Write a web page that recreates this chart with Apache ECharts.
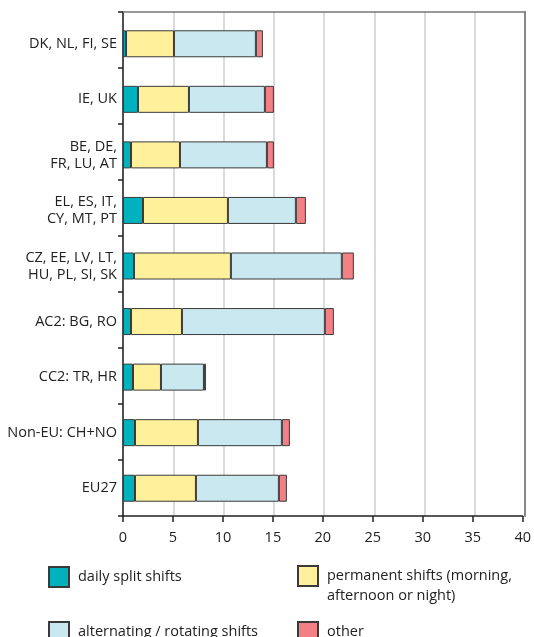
<!DOCTYPE html>
<html>
<head>
<meta charset="utf-8">
<script src="https://cdn.jsdelivr.net/npm/echarts@6/dist/echarts.min.js"></script>
<style>
html,body{margin:0;padding:0;background:#fff;}
#c{width:534px;height:637px;}
</style>
</head>
<body>
<div id="c"></div>
<script>
const categories = [
  'DK, NL, FI, SE',
  'IE, UK',
  'BE, DE,\nFR, LU, AT',
  'EL, ES, IT,\nCY, MT, PT',
  'CZ, EE, LV, LT,\nHU, PL, SI, SK',
  'AC2: BG, RO',
  'CC2: TR, HR',
  'Non-EU: CH+NO',
  'EU27'
];
const seriesNames = [
  'daily split shifts',
  'permanent shifts (morning, afternoon or night)',
  'alternating / rotating shifts',
  'other'
];
const dailySplit  = [0.3, 1.5, 0.8, 2.0, 1.1, 0.8, 1.0, 1.2, 1.2];
const permanent   = [4.8, 5.1, 4.9, 8.5, 9.7, 5.1, 2.8, 6.3, 6.1];
const alternating = [8.2, 7.6, 8.7, 6.8, 11.1, 14.3, 4.3, 8.4, 8.3];
const other       = [0.7, 0.9, 0.7, 1.0, 1.2, 0.9, 0.2, 0.8, 0.8];
const xTicks = [0, 5, 10, 15, 20, 25, 30, 35, 40];

const colors = ['#00B2BE', '#FFF09B', '#C9E8EF', '#F28084'];
const values = [dailySplit, permanent, alternating, other];
const FONT = 'Open Sans';
const FS = 14.5;

const chart = echarts.init(document.getElementById('c'), null, {renderer: 'canvas'});

const series = seriesNames.map((n, i) => ({
  name: n,
  type: 'bar',
  stack: 'total',
  xAxisIndex: 0,
  yAxisIndex: 0,
  barWidth: 27,
  data: values[i],
  itemStyle: {color: colors[i], borderColor: '#3a3a3a', borderWidth: 1},
  emphasis: {disabled: true},
  animation: false
}));

function legendOf(name, left, top, extra) {
  return Object.assign({
    data: [name],
    left: left, top: top,
    padding: 0,
    itemWidth: 20, itemHeight: 20,
    icon: 'rect',
    selectedMode: false,
    textStyle: {fontFamily: FONT, fontSize: FS, color: '#222', padding: [0, 0, 0, 4]}
  }, extra || {});
}

const option = {
  animation: false,
  backgroundColor: '#fff',
  grid: [
    {left: 123, right: 9, top: 16, bottom: 121, containLabel: false},
    {left: 123, right: 9, top: 12, bottom: 121, containLabel: false}
  ],
  legend: [
    legendOf(seriesNames[0], 48, 566),
    legendOf(seriesNames[1], 297, 546, {
      formatter: () => '\npermanent shifts (morning,\nafternoon or night)',
      textStyle: {fontFamily: FONT, fontSize: FS, color: '#222', lineHeight: 20, padding: [0, 0, 0, 4]}
    }),
    legendOf(seriesNames[2], 48, 621),
    legendOf(seriesNames[3], 297, 621)
  ],
  xAxis: [
    {
      gridIndex: 0, type: 'value', position: 'bottom',
      min: xTicks[0], max: xTicks[xTicks.length - 1], interval: 5,
      axisLine: {show: true, lineStyle: {color: '#222', width: 1.5}},
      axisTick: {show: true, length: 6, lineStyle: {color: '#222', width: 1.5}},
      axisLabel: {fontFamily: FONT, fontSize: FS, color: '#222', margin: 14},
      splitLine: {show: false}
    },
    {
      gridIndex: 1, type: 'value', position: 'top',
      min: xTicks[0], max: xTicks[xTicks.length - 1], interval: 5,
      axisLine: {show: true, lineStyle: {color: '#777', width: 1.5}},
      axisTick: {show: false},
      axisLabel: {show: false},
      splitLine: {show: true, lineStyle: {color: '#cfcfcf', width: 1.5}}
    }
  ],
  yAxis: [
    {
      gridIndex: 0, type: 'category', inverse: true, data: categories,
      axisLine: {show: false},
      axisTick: {show: false},
      axisLabel: {fontFamily: FONT, fontSize: FS, color: '#222', lineHeight: 17, margin: 6, align: 'right'}
    },
    {
      gridIndex: 1, type: 'category', inverse: true, data: categories, position: 'left',
      axisLine: {show: true, lineStyle: {color: '#222', width: 1.5}},
      axisTick: {show: true, length: 5, lineStyle: {color: '#222', width: 1.5}},
      axisLabel: {show: false}
    },
    {
      gridIndex: 1, type: 'category', inverse: true, data: categories, position: 'right',
      axisLine: {show: true, lineStyle: {color: '#888', width: 2}},
      axisTick: {show: false},
      axisLabel: {show: false}
    }
  ],
  series: series
};
chart.setOption(option);
</script>
</body>
</html>
